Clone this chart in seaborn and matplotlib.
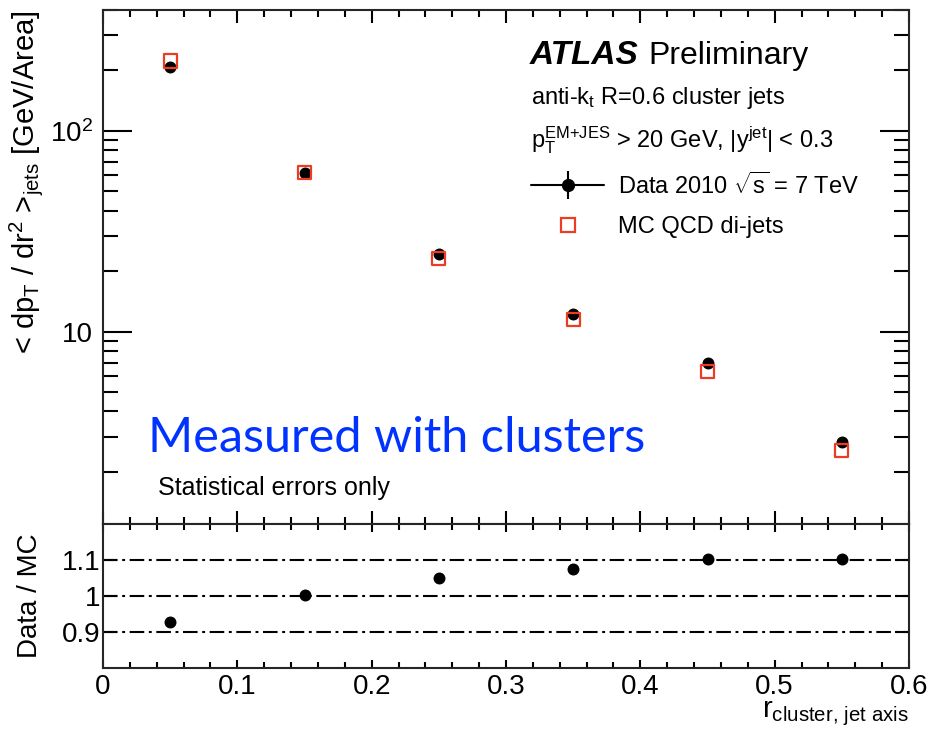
import numpy as np
import pandas as pd
import matplotlib
matplotlib.use("Agg")
import matplotlib.pyplot as plt
import seaborn as sns
from matplotlib.lines import Line2D
from matplotlib.legend_handler import HandlerTuple
from matplotlib.ticker import FixedLocator, MultipleLocator, NullFormatter

# Radial bins (bin centres) and measured densities
r_bins = [0.05, 0.15, 0.25, 0.35, 0.45, 0.55]
data_density = [208.0, 62.0, 24.4, 12.3, 7.0, 2.82]
mc_density = [223.0, 62.0, 23.2, 11.45, 6.35, 2.56]
data_over_mc = [0.928, 1.002, 1.05, 1.076, 1.102, 1.102]
ratio_refs = [0.9, 1.0, 1.1]
x_ticks = [0.0, 0.1, 0.2, 0.3, 0.4, 0.5, 0.6]
x_tick_labels = ["0", "0.1", "0.2", "0.3", "0.4", "0.5", "0.6"]
ratio_ticks = [0.9, 1.0, 1.1]
ratio_tick_labels = ["0.9", "1", "1.1"]

sns.set_theme(style="ticks")
plt.rcParams["font.family"] = ["Liberation Sans", "DejaVu Sans"]
plt.rcParams["mathtext.fontset"] = "custom"
plt.rcParams["mathtext.rm"] = "Liberation Sans"
plt.rcParams["mathtext.it"] = "Liberation Sans:italic"
plt.rcParams["mathtext.bf"] = "Liberation Sans:bold"
plt.rcParams["mathtext.sf"] = "Liberation Sans"
plt.rcParams["mathtext.default"] = "regular"
plt.rcParams["axes.linewidth"] = 1.5
plt.rcParams["text.color"] = "black"
plt.rcParams["axes.labelcolor"] = "black"
plt.rcParams["xtick.color"] = "black"
plt.rcParams["ytick.color"] = "black"

RED = "#ee3b24"
W, H = 928, 734


def px(x, y):
    return x / W, 1 - y / H


df = pd.DataFrame({"r": r_bins, "data": data_density, "mc": mc_density,
                   "ratio": data_over_mc})

fig = plt.figure(figsize=(W / 100, H / 100), dpi=100)
ax = fig.add_axes([103 / W, 1 - 524 / H, 806 / W, 514 / H])
rax = fig.add_axes([103 / W, 1 - 668 / H, 806 / W, 144 / H])

# ---- upper panel: density profile ----
sns.scatterplot(data=df, x="r", y="data", ax=ax, marker="o", s=74,
                color="black", edgecolor="black", linewidth=0, zorder=3)
sns.scatterplot(data=df, x="r", y="mc", ax=ax, marker="s", s=92,
                facecolor="none", edgecolor=RED, linewidth=1.6, zorder=4)
ax.set_yscale("log")
ax.set_xlim(0, 0.6)
ax.set_ylim(1.1, 400)
ax.set_xlabel("")
ax.set_ylabel(r"< dp$_{T}$ / dr$^{2}$ >$_{jets}$ [GeV/Area]", fontsize=21, loc="top")
ax.yaxis.set_label_coords(-0.072, 1.0)

ax.yaxis.set_major_locator(FixedLocator([10, 100]))
ax.set_yticklabels(["10", "10$^{2}$"])
ax.yaxis.set_minor_locator(FixedLocator(
    [m * 10 ** e for e in range(0, 3) for m in range(2, 10)]))
ax.yaxis.set_minor_formatter(NullFormatter())
ax.xaxis.set_major_locator(FixedLocator(x_ticks))
ax.xaxis.set_minor_locator(MultipleLocator(0.02))
ax.tick_params(axis="y", which="major", direction="in", length=21, width=1.5,
               left=True, right=True, labelsize=20, pad=7)
ax.tick_params(axis="y", which="minor", direction="in", length=11, width=1.5,
               left=True, right=True)
ax.tick_params(axis="x", which="major", direction="in", length=9.5, width=1.5,
               top=True, bottom=True, labelbottom=False)
ax.tick_params(axis="x", which="minor", direction="in", length=5, width=1.5,
               top=True, bottom=True)

# legend: data marker with error cross, MC open square
data_handle = (Line2D([], [], color="black", lw=1.5, marker="o", ms=8.5),
               Line2D([], [], color="black", lw=0, marker="|", ms=20, mew=1.5))
mc_handle = Line2D([], [], color=RED, lw=0, marker="s", ms=9.5,
                   mfc="none", mec=RED, mew=1.6)
ax.legend([data_handle, mc_handle],
          [r"Data 2010 $\sqrt{s}$ = 7 TeV", "MC QCD di-jets"],
          handler_map={tuple: HandlerTuple(ndivide=1, pad=0)},
          loc="upper left", bbox_to_anchor=px(531, 172),
          bbox_transform=fig.transFigure, frameon=False, fontsize=17,
          borderpad=0, borderaxespad=0, handlelength=3.1, handletextpad=0.6,
          labelspacing=0.75)

fig.text(*px(530, 64), "ATLAS", fontsize=24, fontweight="bold",
         fontstyle="italic", va="baseline")
fig.text(*px(648, 64), "Preliminary", fontsize=23, va="baseline")
fig.text(*px(531, 104), "anti-k$_{t}$ R=0.6 cluster jets", fontsize=17,
         va="baseline")
fig.text(*px(531, 147), r"p$_{T}^{EM{+}JES}$ > 20 GeV, |y$^{jet}$| < 0.3",
         fontsize=17, va="baseline")
fig.text(*px(158, 495), "Statistical errors only", fontsize=18,
         va="baseline")
fig.text(*px(148, 452), "Measured with clusters", fontsize=35,
         family=["Lato", "DejaVu Sans"], color="#0033ff", va="baseline")

# ---- lower panel: data / MC ratio ----
for ref in ratio_refs:
    rax.axhline(ref, color="black", lw=1.5, ls=(0, (7, 2.2, 1.4, 2.2)),
                zorder=1)
sns.scatterplot(data=df, x="r", y="ratio", ax=rax, marker="o", s=74,
                color="black", edgecolor="black", linewidth=0, zorder=3)
rax.set_xlim(0, 0.6)
rax.set_ylim(0.8, 1.2)
rax.xaxis.set_major_locator(FixedLocator(x_ticks))
rax.set_xticklabels(x_tick_labels)
rax.xaxis.set_minor_locator(MultipleLocator(0.02))
rax.yaxis.set_major_locator(FixedLocator(ratio_ticks))
rax.set_yticklabels(ratio_tick_labels)
rax.tick_params(axis="x", which="major", direction="in", length=6, width=1.5,
                top=True, bottom=True, labelsize=20, pad=4)
rax.tick_params(axis="x", which="minor", direction="in", length=4, width=1.5,
                top=True, bottom=True)
rax.tick_params(axis="y", which="major", direction="in", length=10, width=1.5,
                left=True, right=True, labelsize=20, pad=2)
rax.set_ylabel("Data / MC", fontsize=20)
rax.yaxis.set_label_coords(-0.074, 0.5)
rax.set_xlabel(r"r$_{cluster,\,jet\ axis}$", fontsize=21, loc="right")
rax.xaxis.set_label_coords(1.0, -0.215)

fig.savefig("out.png", dpi=100)
